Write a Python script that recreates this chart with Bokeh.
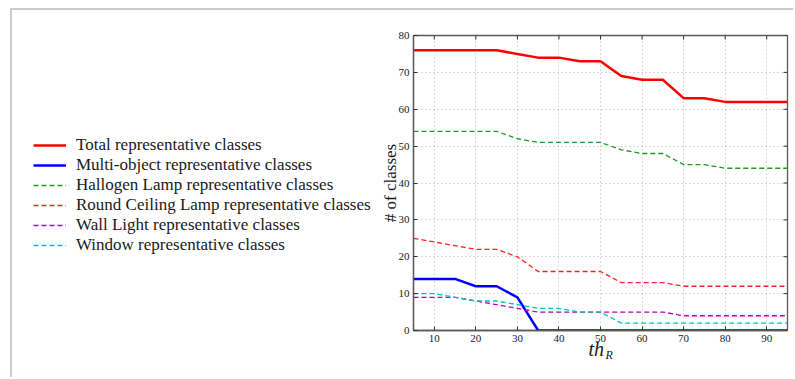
import math
from bokeh.plotting import figure
from bokeh.layouts import row
from bokeh.models import (Legend, LegendItem, Title, FixedTicker, Range1d)
from bokeh.embed import file_html
from bokeh.resources import INLINE

# ---- data ----
th_r = [5, 10, 15, 20, 25, 30, 35, 40, 45, 50, 55, 60, 65, 70, 75, 80, 85, 90, 95]
total = [76, 76, 76, 76, 76, 75, 74, 74, 73, 73, 69, 68, 68, 63, 63, 62, 62, 62, 62]
multi_object = [14, 14, 14, 12, 12, 9, 0, 0, 0, 0, 0, 0, 0, 0, 0, 0, 0, 0, 0]
hallogen = [54, 54, 54, 54, 54, 52, 51, 51, 51, 51, 49, 48, 48, 45, 45, 44, 44, 44, 44]
round_ceiling = [25, 24, 23, 22, 22, 20, 16, 16, 16, 16, 13, 13, 13, 12, 12, 12, 12, 12, 12]
wall_light = [9, 9, 9, 8, 7, 6, 5, 5, 5, 5, 5, 5, 5, 4, 4, 4, 4, 4, 4]
window = [10, 10, 9, 8, 8, 7, 6, 6, 5, 5, 2, 2, 2, 2, 2, 2, 2, 2, 2]

x_min, x_max = 5, 95
y_min, y_max = 0, 80
x_ticks = [10, 20, 30, 40, 50, 60, 70, 80, 90]
y_ticks = [0, 10, 20, 30, 40, 50, 60, 70, 80]

labels = ["Total representative classes",
          "Multi-object representative classes",
          "Hallogen Lamp representative classes",
          "Round Ceiling Lamp representative classes",
          "Wall Light representative classes",
          "Window representative classes"]
series = [total, multi_object, hallogen, round_ceiling, wall_light, window]

SERIF = "Liberation Serif"
FRAME = "#5a5a5a"
TXT = "#1a1a1a"
styles = [dict(line_color="#ff0000", line_width=2.5),
          dict(line_color="#0000ff", line_width=2.5),
          dict(line_color="#1f9a1f", line_width=1.3, line_dash="5 3"),
          dict(line_color="#ff2020", line_width=1.3, line_dash="5 3"),
          dict(line_color="#c000c0", line_width=1.3, line_dash="5 3"),
          dict(line_color="#00bfbf", line_width=1.3, line_dash="5 3")]

# ---------------- main plot ----------------
p = figure(width=423, height=369, output_backend="svg", toolbar_location=None,
           x_range=Range1d(x_min, x_max), y_range=Range1d(y_min, y_max),
           min_border_left=41, min_border_right=8, min_border_top=25,
           min_border_bottom=49)
p.background_fill_color = "white"
p.border_fill_color = "white"
p.outline_line_color = FRAME
p.outline_line_width = 1.3

for ax in (p.xaxis[0], p.yaxis[0]):
    ax.major_label_text_font = SERIF
    ax.major_label_text_font_size = "11px"
    ax.major_label_text_color = TXT
    ax.major_tick_in = 4
    ax.major_tick_out = 0
    ax.minor_tick_line_color = None
    ax.axis_line_color = FRAME
    ax.axis_line_width = 1.3
    ax.major_tick_line_color = "#333333"
    ax.major_label_standoff = 4
p.xaxis[0].ticker = FixedTicker(ticks=x_ticks)
p.yaxis[0].ticker = FixedTicker(ticks=y_ticks)
p.yaxis[0].axis_label = "# of classes"
p.yaxis[0].axis_label_text_font = SERIF
p.yaxis[0].axis_label_text_font_size = "17px"
p.yaxis[0].axis_label_text_font_style = "normal"
p.yaxis[0].axis_label_text_color = TXT
try:
    p.yaxis[0].axis_label_standoff = -4
except Exception:
    p.yaxis[0].axis_label_standoff = 0

for g in (p.xgrid[0], p.ygrid[0]):
    g.grid_line_color = "#b4b4b4"
    g.grid_line_dash = "1 3"
    g.grid_line_width = 1
p.xgrid[0].ticker = FixedTicker(ticks=x_ticks)
p.ygrid[0].ticker = FixedTicker(ticks=y_ticks)

# inward ticks on the top and right edges
p.ray(x=x_ticks, y=[y_max] * len(x_ticks), length=4, length_units="screen",
      angle=-math.pi / 2, line_color="#333333", line_width=1)
p.ray(x=[x_max] * len(y_ticks), y=y_ticks, length=4, length_units="screen",
      angle=math.pi, line_color="#333333", line_width=1)

for ys, st in zip(series, styles):
    p.line(th_r, ys, **st)

# x axis label th_R (subscript as separate smaller title)
def make_title(text, offset, size, standoff):
    kw = dict(text=text, align="left", offset=offset, vertical_align="top",
              text_font=SERIF, text_font_style="italic", text_font_size=size,
              text_color=TXT)
    try:
        return Title(standoff=standoff, **kw)
    except Exception:
        return Title(standoff=0, **kw)

p.add_layout(make_title("th", 175, "20px", -14), "below")
p.add_layout(make_title("R", 192, "12px", -13), "below")

# ---------------- legend panel ----------------
# The same series are drawn here outside the visible ranges, so that only the
# legend entries of this panel are seen.
lg = figure(width=360, height=369, output_backend="svg", toolbar_location=None,
            x_axis_type=None, y_axis_type=None, x_range=Range1d(-2, -1),
            y_range=Range1d(-2, -1), min_border=0)
lg.outline_line_color = None
lg.background_fill_color = "white"
lg.border_fill_color = "white"
lg_renderers = [lg.line(th_r, ys, **st) for ys, st in zip(series, styles)]

def make_legend(idx, loc):
    return Legend(items=[LegendItem(label=labels[i], renderers=[lg_renderers[i]]) for i in idx],
                  location=loc, label_text_font=SERIF, label_text_font_size="17px",
                  label_text_color=TXT, glyph_width=33, glyph_height=20, label_height=20,
                  label_standoff=10, padding=0, margin=0, spacing=0,
                  border_line_alpha=0, background_fill_alpha=0)

lg.add_layout(make_legend([0, 1], (21, 155)))
lg.add_layout(make_legend([2, 3, 4, 5], (21, 75)))

layout = row(lg, p)
layout.margin = (10, 0, 0, 12)
layout.styles = {"box-shadow": "-2px -2px 0 0 #cccccc"}

open("out.html", "w").write(file_html(layout, INLINE))
